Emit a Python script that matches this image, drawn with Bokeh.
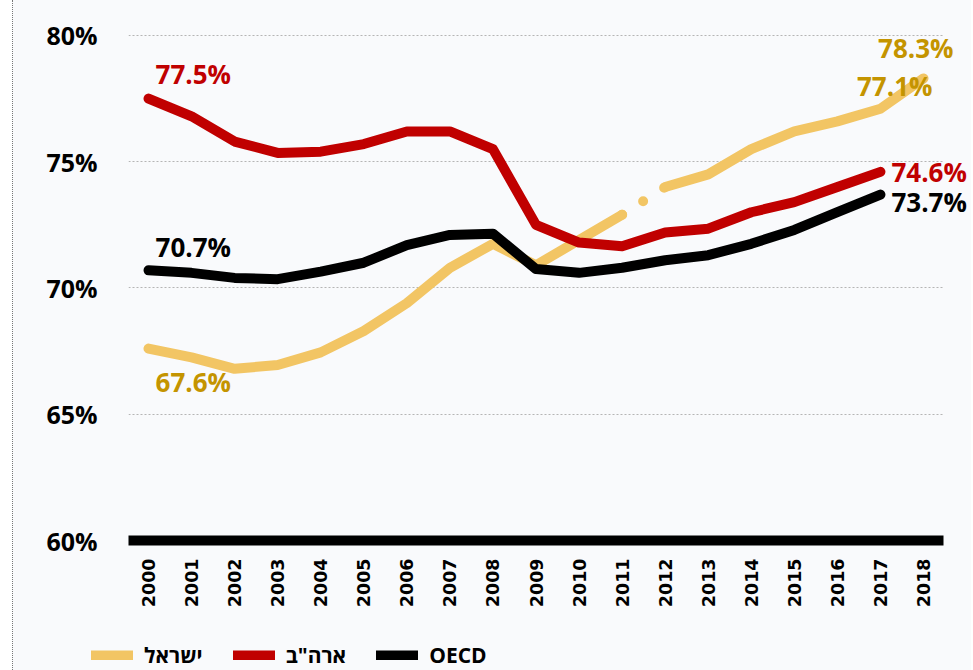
from bokeh.plotting import figure
from bokeh.layouts import column
from bokeh.models import (Range1d, FixedTicker, PrintfTickFormatter, Legend, LegendItem, Label)
from bokeh.embed import file_html
from bokeh.resources import INLINE
from math import pi

years = list(range(2000, 2019))
israel = [67.6, 67.25, 66.8, 66.95, 67.45, 68.3, 69.4, 70.8, 71.75, 70.9, 71.9, 72.9,
          74.0, 74.5, 75.5, 76.2, 76.6, 77.1, 78.3]
usa_years = list(range(2000, 2018))
usa = [77.5, 76.8, 75.8, 75.35, 75.4, 75.7, 76.2, 76.2, 75.5, 72.5, 71.8, 71.65,
       72.2, 72.35, 73.0, 73.4, 74.0, 74.6]
oecd_years = list(range(2000, 2018))
oecd = [70.7, 70.6, 70.4, 70.35, 70.65, 71.0, 71.7, 72.1, 72.15, 70.75, 70.6, 70.8,
        71.1, 71.3, 71.75, 72.3, 73.0, 73.7]
y_ticks = [60, 65, 70, 75, 80]
series_names = ["ישראל", "ארה\"ב", "OECD"]

BG = "#f9fafc"
GOLD = "#f2c564"
GOLD_TXT = "#c49400"
RED = "#c00000"
BLACK = "#000000"
FONT = "Open Sans"

X0, X1 = 1999.535, 2018.465          # extent of the baseline / axis
X_END = 2019.115                     # room for end labels

p = figure(frame_width=843, frame_height=540, min_border_left=115, min_border_right=0,
           min_border_top=0, min_border_bottom=80,
           x_range=Range1d(X0, X_END), y_range=Range1d(60, 81.386),
           output_backend="svg", toolbar_location=None,
           background_fill_color=BG, border_fill_color=BG)
p.outline_line_color = None

# grid
p.xgrid.visible = False
p.ygrid.ticker = FixedTicker(ticks=y_ticks)
p.ygrid.grid_line_color = "#b5b5b5"
p.ygrid.grid_line_dash = "2 2"
p.ygrid.grid_line_width = 1
try:
    p.ygrid.cross_bounds = (X0, X1)
except Exception:
    pass

# axes
p.xaxis.ticker = FixedTicker(ticks=years)
p.xaxis.bounds = (X0, X1)
p.xaxis.major_label_orientation = pi / 2
p.xaxis.axis_line_width = 10
p.xaxis.axis_line_color = BLACK
p.xaxis.major_tick_line_color = None
p.xaxis.minor_tick_line_color = None
p.xaxis.major_label_standoff = 12
p.xaxis.major_label_text_font = "DejaVu Sans"
p.xaxis.major_label_text_font_style = "bold"
p.xaxis.major_label_text_font_size = "17.5px"
p.xaxis.major_label_text_color = BLACK

p.yaxis.ticker = FixedTicker(ticks=y_ticks)
p.yaxis.formatter = PrintfTickFormatter(format="%d%%")
p.yaxis.axis_line_color = None
p.yaxis.major_tick_line_color = None
p.yaxis.minor_tick_line_color = None
p.yaxis.major_label_standoff = 25
p.yaxis.major_label_text_font = FONT
p.yaxis.major_label_text_font_style = "bold"
p.yaxis.major_label_text_font_size = "25px"
p.yaxis.major_label_text_color = BLACK

line_kw = dict(line_width=10, line_cap="round", line_join="round")

# lines
p.line(years[:12], israel[:12], line_color=GOLD, **line_kw)
p.line(years[11:13], israel[11:13], line_color=GOLD, line_dash="0 25", **line_kw)
p.line(years[12:], israel[12:], line_color=GOLD, **line_kw)
p.line(usa_years, usa, line_color=RED, **line_kw)
p.line(oecd_years, oecd, line_color=BLACK, **line_kw)

# labels
def add_label(x, y, color, xo, yo, align):
    p.add_layout(Label(x=x, y=y, text=f"{y:.1f}%", x_offset=xo, y_offset=yo,
                       text_align=align, text_baseline="middle", text_color=color,
                       text_font=FONT, text_font_style="bold", text_font_size="26px"))

add_label(usa_years[0], usa[0], RED, 7, 25, "left")
add_label(oecd_years[0], oecd[0], BLACK, 7, 23, "left")
add_label(years[0], israel[0], GOLD_TXT, 7, -33, "left")
add_label(years[-1], israel[-1], GOLD_TXT, 30, 30, "right")
add_label(years[-2], israel[-2], GOLD_TXT, 52, 23, "right")
add_label(usa_years[-1], usa[-1], RED, 11, 0, "left")
add_label(oecd_years[-1], oecd[-1], BLACK, 11, -7, "left")

# legend strip (its own small figure; series lines there fall outside its view)
lf = figure(frame_width=958, frame_height=50, min_border=0,
            x_range=Range1d(0, 1), y_range=Range1d(0, 1),
            output_backend="svg", toolbar_location=None,
            background_fill_color=BG, border_fill_color=BG)
lf.outline_line_color = None
lf.axis.visible = False
lf.grid.visible = False
g1 = lf.line(years, israel, line_color=GOLD, **line_kw)
g2 = lf.line(usa_years, usa, line_color=RED, **line_kw)
g3 = lf.line(oecd_years, oecd, line_color=BLACK, **line_kw)
legend = Legend(items=[LegendItem(label=series_names[0], renderers=[g1]),
                       LegendItem(label=series_names[1], renderers=[g2]),
                       LegendItem(label=series_names[2], renderers=[g3])],
                orientation="horizontal", location=(78, 1),
                glyph_width=42, glyph_height=10, label_standoff=11, spacing=30,
                label_text_font=FONT, label_text_font_style="bold",
                label_text_font_size="21px", label_text_color=BLACK,
                border_line_color=None, background_fill_alpha=0,
                padding=0, margin=0)
lf.add_layout(legend, "center")

layout = column(p, lf, spacing=0)
layout.styles = {"border-left": "1px dotted #777", "margin-left": "12px",
                 "background-color": BG}

open("out.html", "w").write(file_html(layout, INLINE))
